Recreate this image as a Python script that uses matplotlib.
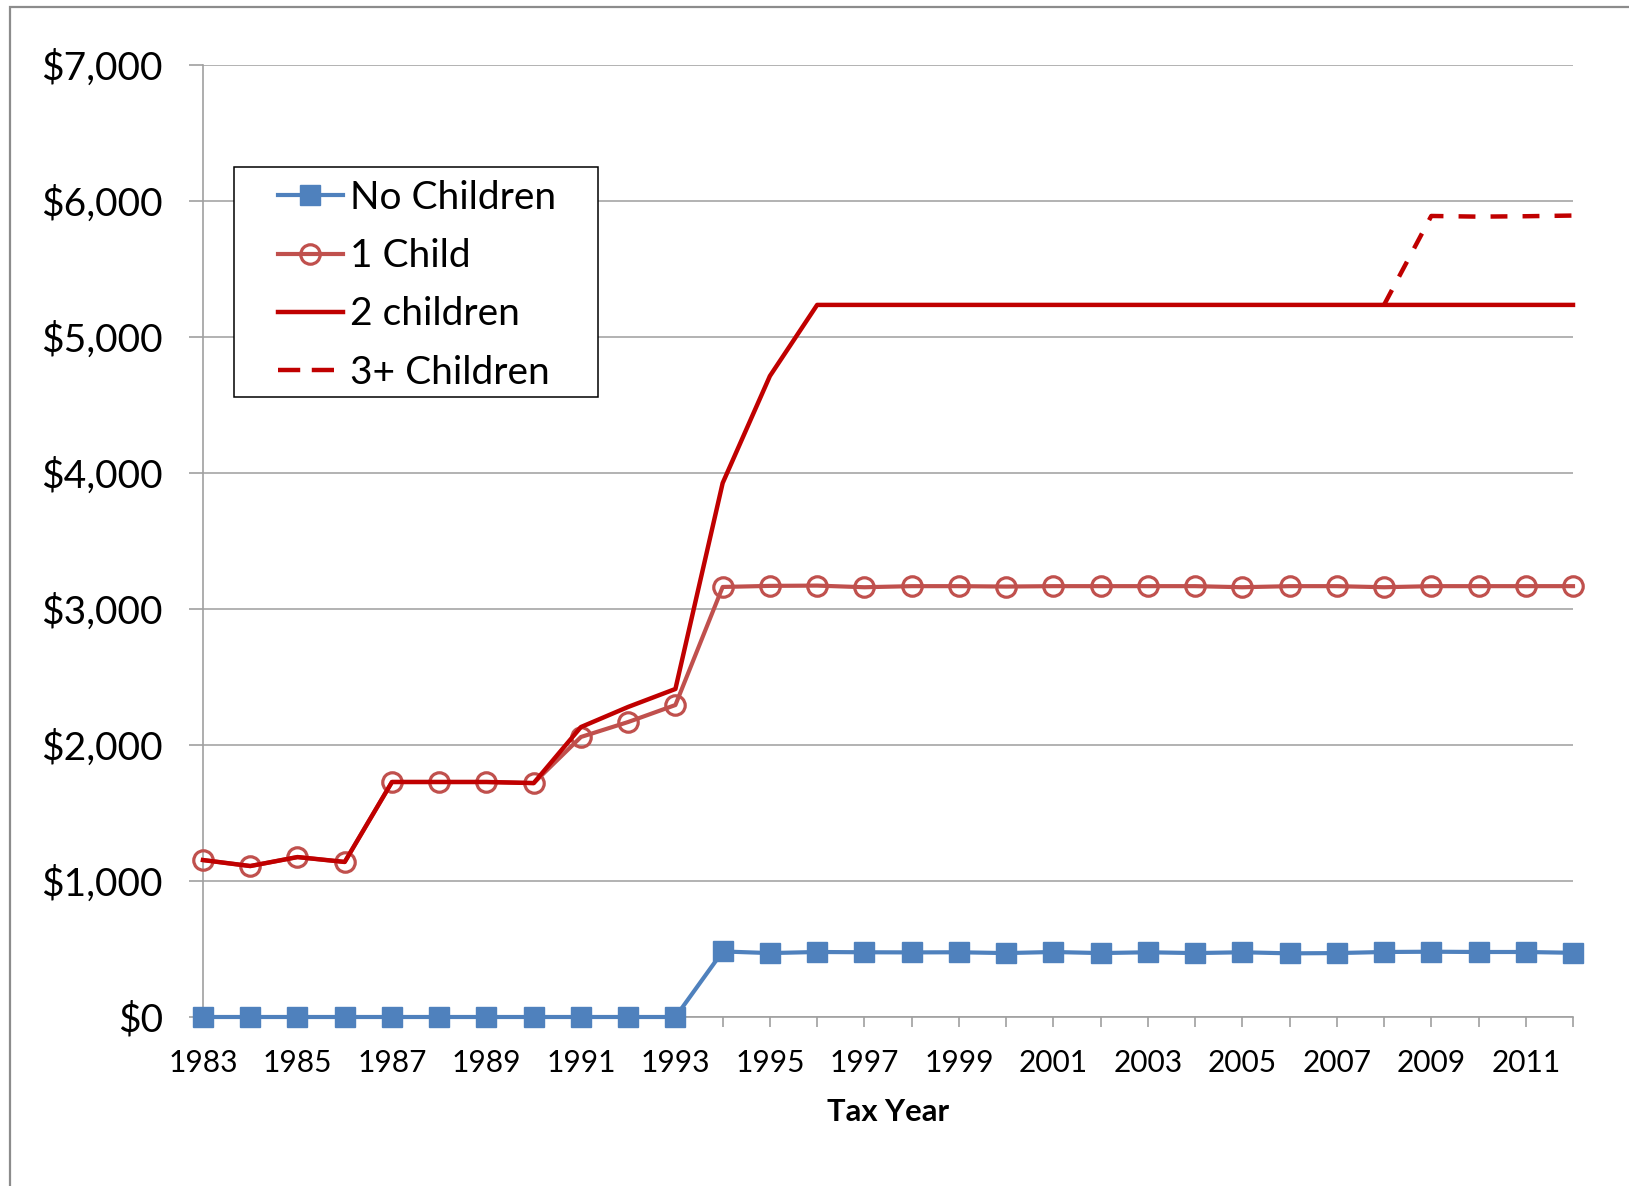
import matplotlib
matplotlib.use("Agg")
import matplotlib.pyplot as plt
from matplotlib.patches import Rectangle
from matplotlib.ticker import FuncFormatter
import numpy as np

plt.rcParams["font.family"] = ["Lato", "DejaVu Sans"]

# ── Data ──────────────────────────────────────────────────────────────────────
years = list(range(1983, 2013))

no_children = [0] * 11 + [482, 470, 478, 476, 475, 476, 470, 478, 470, 476,
                          470, 476, 468, 470, 478, 480, 478, 478, 472]

one_child = [1154, 1110, 1176, 1140, 1728, 1728, 1728, 1720, 2059, 2169, 2294,
             3162, 3170, 3172, 3160, 3168, 3168, 3165, 3168, 3168, 3168,
             3168, 3160, 3168, 3168, 3160, 3168, 3168, 3168, 3168]

two_children = [1154, 1110, 1176, 1140, 1728, 1728, 1728, 1720, 2132, 2280, 2412,
                3926, 4713] + [5236] * 17

three_children = [np.nan] * 25 + [5236, 5890, 5885, 5888, 5893]

series_labels = ["No Children", "1 Child", "2 children", "3+ Children"]

# ── Figure ────────────────────────────────────────────────────────────────────
W, H = 1629, 1186
fig = plt.figure(figsize=(W / 100, H / 100), dpi=100)
fig.patch.set_facecolor("white")

# outer chart-area border (runs off right/bottom edges)
fig.add_artist(Rectangle((10 / W, -0.05), 1.2, 1 - 7 / H + 0.05,
                         transform=fig.transFigure, fill=False,
                         edgecolor="#8c8c8c", linewidth=1.6))

ax = fig.add_axes([203 / W, 1 - 1017 / H, (1573 - 203) / W, (1017 - 65) / H])

BLUE = "#4F81BD"
ROSE = "#C0504D"
DARK_RED = "#C00000"

l0, = ax.plot(years, no_children, color=BLUE, lw=3, marker="s", ms=14.5,
              markeredgecolor=BLUE, zorder=4, clip_on=False)
l1, = ax.plot(years, one_child, color=ROSE, lw=3, marker="o", ms=14,
              markerfacecolor="none", markeredgecolor=ROSE, markeredgewidth=2.3,
              zorder=3, clip_on=False)
l2, = ax.plot(years, two_children, color=DARK_RED, lw=3.2, zorder=5, clip_on=False)
l3, = ax.plot(years, three_children, color=DARK_RED, lw=3.2, ls=(0, (3.8, 3.4)),
              zorder=5, clip_on=False)

ax.set_xlim(1983, 2012)
ax.set_ylim(0, 7000)
ax.set_yticks(range(0, 7001, 1000))
ax.yaxis.set_major_formatter(FuncFormatter(lambda v, p: f"${v:,.0f}"))
ax.set_xticks(years)
ax.set_xticklabels([str(y) if y % 2 == 1 else "" for y in years])

ax.grid(axis="y", color="#a6a6a6", lw=1.2)
ax.set_axisbelow(True)
for s in ["top", "right"]:
    ax.spines[s].set_visible(False)
for s in ["left", "bottom"]:
    ax.spines[s].set_color("#a0a0a0")
    ax.spines[s].set_linewidth(1.2)

ax.tick_params(axis="y", length=10, width=1.2, color="#a0a0a0", pad=19,
               labelsize=28)
ax.tick_params(axis="x", length=7, width=1.2, color="#a0a0a0", pad=16,
               labelsize=21.5)
ax.set_xlabel("Tax Year", fontsize=22.3, fontweight="bold", labelpad=15)

# legend: frame drawn separately to get the wide left padding
leg = fig.legend([l0, l1, l2, l3], series_labels, loc="upper left",
                 bbox_to_anchor=(278 / W, 1 - 180 / H), frameon=False,
                 fontsize=28, handlelength=1.67, handletextpad=0.18,
                 labelspacing=0.57, borderpad=0, borderaxespad=0)
for h in leg.legend_handles:
    h.set_markersize(14)
leg.legend_handles[3].set_linestyle((0, (5.0, 2.6)))
fig.add_artist(Rectangle((234 / W, 1 - 397 / H), (598 - 234) / W, (397 - 167) / H,
                         transform=fig.transFigure, fill=True, facecolor="white",
                         edgecolor="black", linewidth=1.1, zorder=9))
leg.set_zorder(10)

fig.savefig("out.png", dpi=100, facecolor="white")
